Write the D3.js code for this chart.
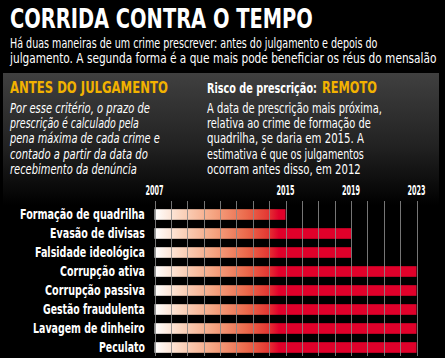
<!DOCTYPE html>
<html><head><meta charset="utf-8">
<script src="https://cdn.jsdelivr.net/npm/d3@7"></script>
<style>
html,body{margin:0;padding:0;background:#000;}
svg{display:block;}
text{font-family:"Liberation Sans Narrow","DejaVu Sans Condensed","Roboto Condensed",sans-serif;}
</style></head>
<body>
<script>
const crimes = ["Formação de quadrilha","Evasão de divisas","Falsidade ideológica","Corrupção ativa","Corrupção passiva","Gestão fraudulenta","Lavagem de dinheiro","Peculato"];
const prescriptionYear = [2015,2019,2019,2023,2023,2023,2023,2023];
const startYear = 2007;
const tickYears = [2007,2015,2019,2023];
const gridYears = d3.range(2007,2024);

const W=445,H=358;
const svg=d3.select("body").append("svg").attr("width",W).attr("height",H);
const defs=svg.append("defs");

const pg=defs.append("linearGradient").attr("id","panel").attr("x1",0).attr("y1",0).attr("x2",0).attr("y2",1);
pg.append("stop").attr("offset","0").attr("stop-color","#404040");
pg.append("stop").attr("offset","0.55").attr("stop-color","#222");
pg.append("stop").attr("offset","1").attr("stop-color","#000");

svg.append("rect").attr("width",W).attr("height",H).attr("fill","#000");
svg.append("rect").attr("x",3).attr("y",73).attr("width",436).attr("height",132).attr("fill","url(#panel)");

// place text at (x,y), horizontally scaled to width w (start-anchored)
function fitText(x0,y0,w,str,attrs){
  const t=svg.append("text").attr("x",0).attr("y",0).text(str);
  Object.entries(attrs).forEach(([k,v])=>t.attr(k,v));
  const nat=t.node().getComputedTextLength();
  const sx=w/nat;
  t.attr("transform",`translate(${x0},${y0}) scale(${sx},1)`);
  return t;
}

// title
fitText(10,28,303,"CORRIDA CONTRA O TEMPO",{fill:"#fff","font-weight":"bold","font-size":26});
const sub=["Há duas maneiras de um crime prescrever: antes do julgamento e depois do",
           "julgamento. A segunda forma é a que mais pode beneficiar os réus do mensalão"];
const subW=[368,427];
sub.forEach((s,i)=>fitText(10,48+i*15,subW[i],s,{fill:"#fff","font-size":13.5}));

// panel left
fitText(10,93,158,"ANTES DO JULGAMENTO",{fill:"#f2b200","font-weight":"bold","font-size":16});
const leftLines=["Por esse critério, o prazo de","prescrição é calculado pela","pena máxima de cada crime e","contado a partir da data do","recebimento da denúncia"];
const leftW=[140,129,150,138,127];
leftLines.forEach((s,i)=>fitText(10,113+i*15.2,leftW[i],s,{fill:"#fff","font-style":"italic","font-size":13.5}));

// panel right
fitText(207,93,110,"Risco de prescrição:",{fill:"#fff","font-weight":"bold","font-size":14});
fitText(322,93,55,"REMOTO",{fill:"#f2b200","font-weight":"bold","font-size":16});
const rightLines=["A data de prescrição mais próxima,","relativa ao crime de formação de","quadrilha, se daria em 2015. A","estimativa é que os julgamentos","ocorram antes disso, em 2012"];
const rightW=[175,164,157,157,154];
rightLines.forEach((s,i)=>fitText(207,113+i*15.2,rightW[i],s,{fill:"#fff","font-size":13.5}));

// chart
const x=d3.scaleLinear().domain([2007,2023]).range([154.5,416.5]);
const y=d3.scaleBand().domain(crimes).range([205,357]).paddingInner(0.44).paddingOuter(0.22);

const bg=defs.append("linearGradient").attr("id","bar").attr("gradientUnits","userSpaceOnUse")
  .attr("x1",x(2007)).attr("x2",x(2015)).attr("y1",0).attr("y2",0);
[[0,"#ffffff"],[0.2,"#fbd6c0"],[0.45,"#f5a582"],[0.7,"#eb6a4c"],[0.86,"#e43a34"],[0.95,"#e0002a"],[1,"#e0002a"]]
  .forEach(([o,c])=>bg.append("stop").attr("offset",o).attr("stop-color",c));

svg.append("g").selectAll("rect").data(crimes).join("rect")
  .attr("x",x(startYear)).attr("y",d=>y(d)).attr("height",y.bandwidth())
  .attr("width",(d,i)=>x(prescriptionYear[i])-x(startYear)).attr("fill","url(#bar)");

svg.append("g").selectAll("line").data(gridYears).join("line")
  .attr("x1",d=>Math.round(x(d))+0.5).attr("x2",d=>Math.round(x(d))+0.5).attr("y1",201).attr("y2",356)
  .attr("stroke","#8a8a8a").attr("stroke-opacity",0.85).attr("stroke-width",1);

tickYears.forEach(d=>fitText(x(d)-9,195,18,String(d),{fill:"#fff","font-weight":"bold","font-size":13.5}));

const labelW=[125,95,110,85,100,102,112,46];
crimes.forEach((d,i)=>fitText(145-labelW[i],y(d)+y.bandwidth()/2+4.5,labelW[i],d,{fill:"#fff","font-weight":"bold","font-size":13.5}));
</script>
</body></html>
